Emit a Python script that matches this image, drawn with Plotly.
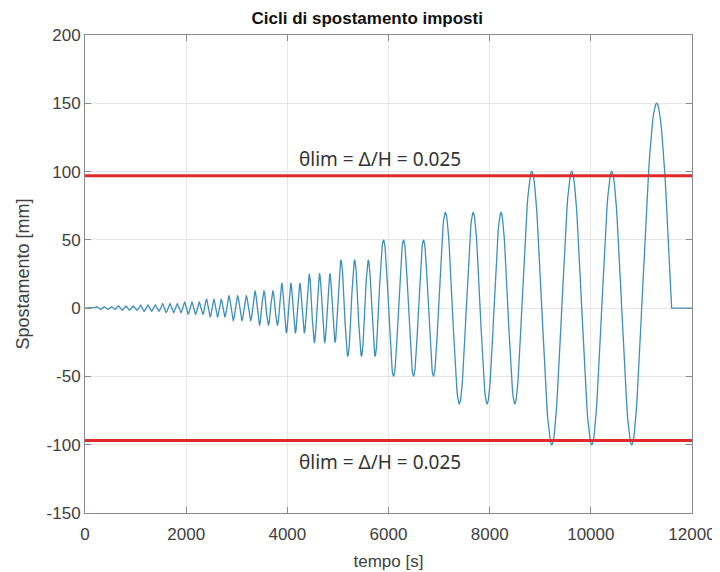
import numpy as np
import plotly.graph_objects as go

# Imposed displacement cycles
group_amp = [1.1, 1.6, 2.3, 3.2, 4.5, 6.4, 9, 12.5, 18, 25, 35, 50, 70, 100, 150]   # mm
group_cycles = [3, 3, 3, 3, 3, 3, 3, 3, 3, 3, 3, 3, 3, 3, 0.5]
group_period = [145, 145, 145, 145, 145, 145, 172, 177, 178, 204, 270, 395, 549, 790, 1185]  # s
t_first = 190      # s, start of the first cycle
t_final = 12000    # s, end of record
theta_disp = 97    # mm, displacement for theta_lim = 0.025
label_text = "θlim = Δ/H = 0.025"
label_t = 5830
x_ticks = [0, 2000, 4000, 6000, 8000, 10000, 12000]
y_ticks = [-150, -100, -50, 0, 50, 100, 150, 200]

t_pts = [0.0]
y_pts = [0.0]
t0 = t_first
for A, n, P in zip(group_amp, group_cycles, group_period):
    npts = int(60 * n) + 1
    tt = np.linspace(0, n * P, npts)
    t_pts.extend((t0 + tt).tolist())
    y_pts.extend((A * np.sin(2 * np.pi * tt / P)).tolist())
    t0 += n * P
t_pts.append(t_final)
y_pts.append(0.0)

fig = go.Figure()
fig.add_trace(go.Scatter(x=t_pts, y=y_pts, mode="lines",
                         line=dict(color="#3f8fb8", width=1.3), showlegend=False))
for s in (1, -1):
    fig.add_trace(go.Scatter(x=[0, t_final], y=[s * theta_disp, s * theta_disp], mode="lines",
                             line=dict(color="#e02a2a", width=3), showlegend=False))

fig.add_annotation(x=label_t, y=theta_disp, text=label_text, showarrow=False,
                   yanchor="bottom", yshift=2,
                   font=dict(family="Noto Sans", size=19, color="#333333"))
fig.add_annotation(x=label_t, y=-theta_disp, text=label_text, showarrow=False,
                   yanchor="top", yshift=-6,
                   font=dict(family="Noto Sans", size=19, color="#333333"))

axis_common = dict(showline=True, linecolor="#8a8a8a", linewidth=1, mirror="ticks",
                   ticks="inside", ticklen=6, tickcolor="#8a8a8a",
                   showgrid=True, gridcolor="#e6e6e6", gridwidth=1, zeroline=False,
                   tickfont=dict(family="Liberation Sans", size=17, color="#404040"))
fig.update_xaxes(range=[0, 12000], tickvals=x_ticks, ticktext=[str(v) for v in x_ticks],
                 ticklabelstandoff=6,
                 title=dict(text="tempo [s]", standoff=11,
                            font=dict(family="Liberation Sans", size=17, color="#404040")),
                 **axis_common)
fig.update_yaxes(range=[-150, 200], tickvals=y_ticks, ticktext=[str(v) for v in y_ticks],
                 title=dict(text="Spostamento [mm]", standoff=12,
                            font=dict(family="Liberation Sans", size=18, color="#404040")),
                 **axis_common)
fig.update_layout(
    width=720, height=572,
    margin=dict(l=77, r=36, t=27, b=67),
    paper_bgcolor="white", plot_bgcolor="white",
    title=dict(text="<b>Cicli di spostamento imposti</b>", xref="paper", x=0.465,
               xanchor="center", yref="container", y=1 - 10 / 572, yanchor="middle",
               font=dict(family="Liberation Sans", size=17, color="#111111")),
)
fig.write_html("out.html")
